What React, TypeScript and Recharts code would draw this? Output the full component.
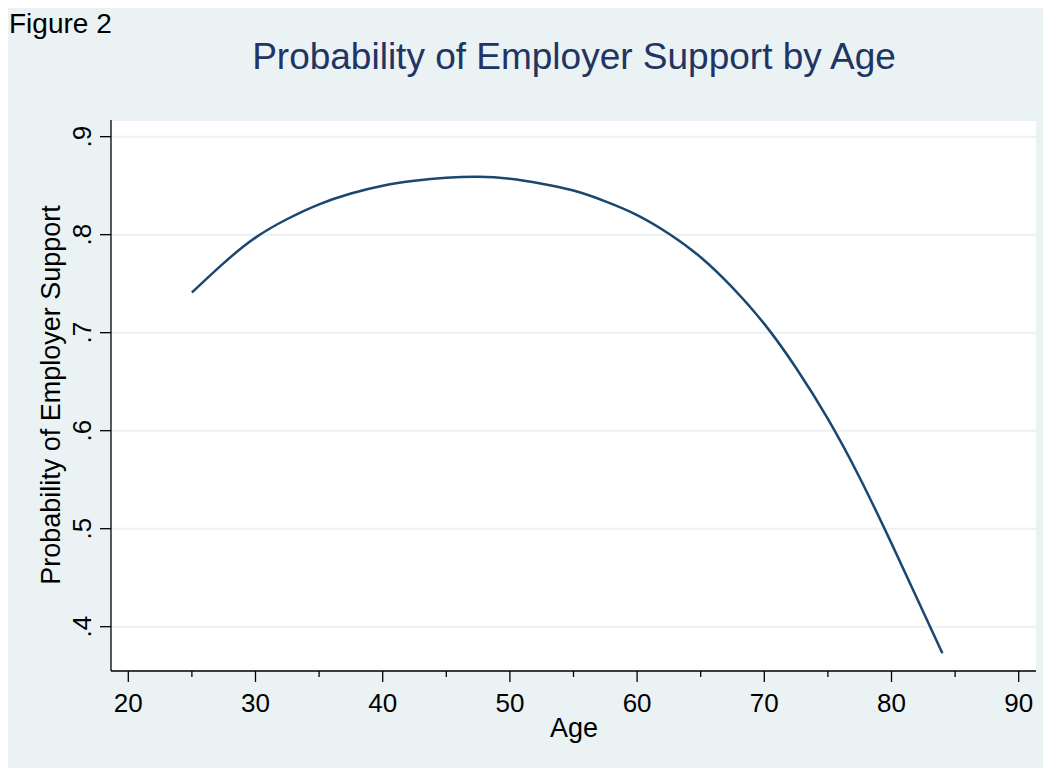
import React from "react";
import { CartesianGrid, Line, LineChart, XAxis, YAxis } from "recharts";

// fitted probability (age -> probability)
const ages = [25, 27.5, 30, 32.5, 35, 37.5, 40, 42.5, 45, 47.5, 50, 52.5, 55, 57.5, 60, 62.5, 65, 67.5, 70, 72.5, 75, 77.5, 80, 82, 84];
const probabilities = [
  0.741, 0.771, 0.797, 0.816, 0.831, 0.842, 0.85, 0.855, 0.858, 0.859, 0.857, 0.852, 0.845,
  0.834, 0.82, 0.801, 0.777, 0.746, 0.709, 0.664, 0.612, 0.552, 0.485, 0.429, 0.373,
];
const xTicks = [20, 25, 30, 35, 40, 45, 50, 55, 60, 65, 70, 75, 80, 85, 90];
const yTicks = [0.4, 0.5, 0.6, 0.7, 0.8, 0.9];

const BG = "#EAF2F3";
const NAVY = "#1a476f";
const TITLE = "#213463";
const FONT = "'Liberation Sans', Arial, Helvetica, sans-serif";
const W = 1043;
const H = 760;

const data = ages.map((age, i) => ({ age, p: probabilities[i] }));

function XTick(props: any) {
  const { x, y, payload } = props;
  const major = payload.value % 10 === 0;
  return (
    <g>
      <line x1={x} x2={x} y1={y} y2={y + (major ? 11 : 6)} stroke="#000" strokeWidth={1.3} />
      {major && (
        <text x={x} y={y + 41} textAnchor="middle" fontSize={26} fontFamily={FONT} fill="#000">
          {payload.value}
        </text>
      )}
    </g>
  );
}

function YTick(props: any) {
  const { x, y, payload } = props;
  const label = payload.value.toFixed(1).replace(/^0/, "");
  return (
    <g>
      <line x1={x - 11} x2={x} y1={y} y2={y} stroke="#000" strokeWidth={1.3} />
      <text
        x={x - 20}
        y={y}
        transform={`rotate(-90 ${x - 20} ${y})`}
        textAnchor="middle"
        fontSize={26}
        fontFamily={FONT}
        fill="#000"
      >
        {label}
      </text>
    </g>
  );
}

export default function App() {
  return (
    <div style={{ position: "relative", width: W, height: H, background: BG, fontFamily: FONT }}>
      <LineChart width={W} height={H} data={data} margin={{ top: 112, right: 15, left: 0, bottom: 0 }}>
        <CartesianGrid vertical={false} stroke={BG} strokeWidth={2} fill="#ffffff" fillOpacity={1} />
        <XAxis
          dataKey="age"
          type="number"
          domain={[18.64, 91.36]}
          ticks={xTicks}
          interval={0}
          allowDataOverflow
          height={97}
          tickSize={0}
          tickMargin={0}
          tick={<XTick />}
          axisLine={{ stroke: "#000", strokeWidth: 1.3 }}
          tickLine={false}
        />
        <YAxis
          type="number"
          domain={[0.3548, 0.917]}
          ticks={yTicks}
          interval={0}
          allowDataOverflow
          width={103}
          tickSize={0}
          tickMargin={0}
          tick={<YTick />}
          axisLine={{ stroke: "#000", strokeWidth: 1.3 }}
          tickLine={false}
        />
        <Line
          type="natural"
          dataKey="p"
          stroke={NAVY}
          strokeWidth={2.5}
          dot={false}
          activeDot={false}
          isAnimationActive={false}
        />
      </LineChart>
      <svg
        width={W}
        height={H}
        style={{ position: "absolute", left: 0, top: 0, pointerEvents: "none" }}
        fontFamily={FONT}
      >
        <text x={1} y={25} fontSize={28} fill="#000">
          Figure 2
        </text>
        <text x={566} y={61} fontSize={37} fill={TITLE} textAnchor="middle">
          Probability of Employer Support by Age
        </text>
        <text
          x={52}
          y={387}
          fontSize={27}
          fill="#000"
          textAnchor="middle"
          transform="rotate(-90 52 387)"
        >
          Probability of Employer Support
        </text>
        <text x={566} y={729} fontSize={27} fill="#000" textAnchor="middle">
          Age
        </text>
      </svg>
    </div>
  );
}
